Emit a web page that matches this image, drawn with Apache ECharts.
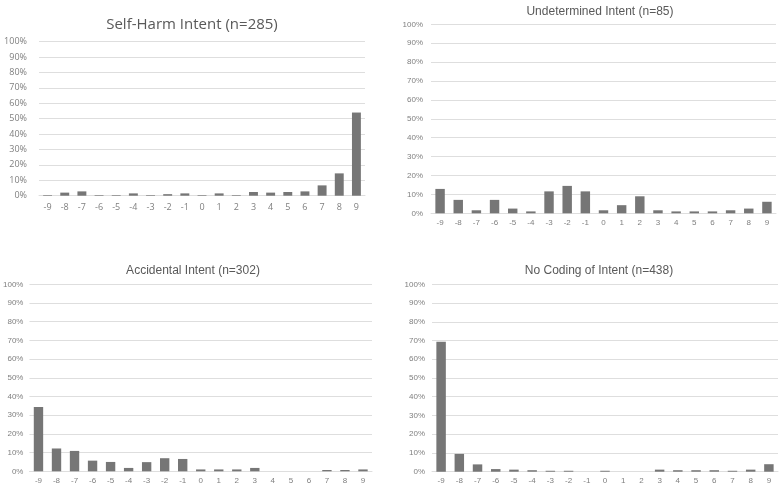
<!DOCTYPE html>
<html><head><meta charset="utf-8">
<script src="https://cdn.jsdelivr.net/npm/echarts@6/dist/echarts.min.js"></script>
<style>html,body{margin:0;padding:0;background:#fff}#c{width:780px;height:487px}</style>
</head><body><div id="c"></div>
<script>
const categories = ['-9','-8','-7','-6','-5','-4','-3','-2','-1','0','1','2','3','4','5','6','7','8','9'];
const titles = ['Self-Harm Intent (n=285)','Undetermined Intent (n=85)','Accidental Intent (n=302)','No Coding of Intent (n=438)'];
const selfHarm = [0.4,2,2.8,0.4,0.4,1.5,0.4,1,1.5,0.4,1.5,0.4,2.4,2,2.4,2.8,6.7,14.5,54];
const undetermined = [12.9,7.1,1.6,7.1,2.5,1.0,11.6,14.5,11.6,1.6,4.3,9.0,1.6,1.0,1.0,1.0,1.6,2.5,6.1];
const accidental = [34.4,12.2,10.9,5.7,5.0,1.8,4.9,7.0,6.6,1.0,1.0,1.0,1.8,0,0,0,0.7,0.7,1.0];
const noCoding = [69.3,9.5,3.9,1.4,1.1,0.8,0.5,0.5,0,0.5,0,0,1.1,0.8,0.8,0.8,0.5,1.1,4.0];
const yTicks = [0,10,20,30,40,50,60,70,80,90,100];

const seriesData = [selfHarm, undetermined, accidental, noCoding];
const grids = [
  {left:39, top:41.7, width:326, height:154},
  {left:431, top:24.3, width:345, height:189},
  {left:26, top:284.3, width:346, height:187},
  {left:432, top:284.3, width:346, height:187.4}
];
const fonts = ['Open Sans','Liberation Sans','Liberation Sans','Liberation Sans'];
const titlePos = [
  {x:187, top:12, size:15},
  {x:595, top:1, size:12},
  {x:188, top:260, size:12},
  {x:594, top:260, size:12}
];
const yMargins = [12, 8, 6, 7];
const xMargins = [7, 5, 5, 5];
const labelSizes = [9, 8, 8, 8];
const txt = '#7f7f7f', gridC = '#dedede', barC = '#767676';

const option = {
  animation:false,
  title: titles.map((t,i)=>({text:t, left:titlePos[i].x, top:titlePos[i].top, textAlign:'center',
    textStyle:{fontFamily:fonts[i], fontSize:titlePos[i].size, fontWeight:'normal', color:'#595959'}})),
  grid: grids.map(g=>Object.assign({containLabel:false}, g)),
  xAxis: grids.map((g,i)=>({type:'category', gridIndex:i, data:categories,
    axisLine:{lineStyle:{color:gridC}}, axisTick:{show:false},
    axisLabel:{color:txt, fontSize:labelSizes[i], fontFamily:fonts[i], margin:xMargins[i], interval:0}})),
  yAxis: grids.map((g,i)=>({type:'value', gridIndex:i, min:yTicks[0], max:yTicks[yTicks.length-1], interval:yTicks[1]-yTicks[0],
    axisLine:{show:false}, axisTick:{show:false},
    splitLine:{lineStyle:{color:gridC}},
    axisLabel:{color:txt, fontSize:labelSizes[i], fontFamily:fonts[i], margin:yMargins[i], formatter:'{value}%'}})),
  series: seriesData.map((d,i)=>({type:'bar', xAxisIndex:i, yAxisIndex:i, data:d, barWidth:'52%',
    itemStyle:{color:barC}}))
};
echarts.init(document.getElementById('c')).setOption(option);
</script></body></html>
